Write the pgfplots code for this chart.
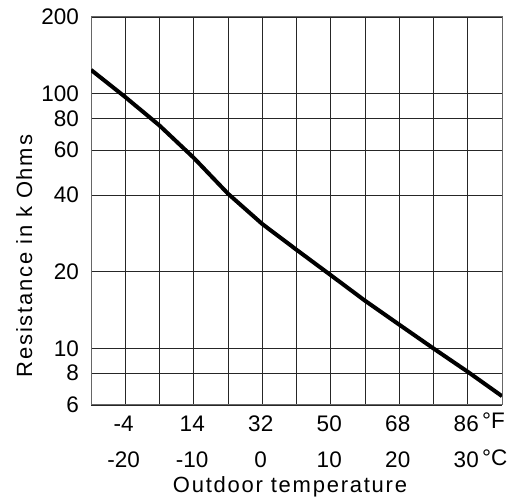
\documentclass[border=0pt]{standalone}
\usepackage{pgfplots}
\pgfplotsset{compat=1.18}
\usepackage{fontspec}
\setmainfont{Liberation Sans}
\newfontfamily\spaced[LetterSpace=8]{Liberation Sans}
\begin{document}
\begin{tikzpicture}[x=1bp,y=1bp]
\useasboundingbox (0,0) rectangle (518,498);
\begin{axis}[
 at={(91bp,93bp)}, anchor=south west,
 scale only axis, width=411bp, height=388bp,
 xmin=-25, xmax=35, ymode=log, ymin=6, ymax=200,
 xtick={-20,-10,...,30},
 minor xtick={-15,-5,...,25},
 xticklabels={{-4\\-20},{14\\-10},{32\\0},{50\\10},{68\\20},{86\hspace{9bp}\\30\hspace{9bp}}},
 ytick={6,8,10,20,40,60,80,100,200},
 yticklabels={6,8,10,20,40,60,80,100,200},
 grid=both,
 major grid style={black!85, line width=0.9bp},
 minor grid style={black!85, line width=0.9bp},
 axis line style={black!60, line width=1bp},
 major tick length=0pt, minor tick length=0pt,
 tick style={draw=none},
 xticklabel style={font=\fontsize{22.5bp}{36bp}\selectfont, align=center, anchor=north, inner sep=0pt, yshift=-11bp, xshift=-1.5bp},
 yticklabel style={font=\fontsize{22.5bp}{26bp}\selectfont, anchor=east, inner sep=0pt, xshift=-12bp},
]
\addplot[black, line width=4bp, line join=round] coordinates {
(-25,124) (-20,97) (-15,75) (-10,56) (-5,40.5) (0,30.8) (5,24.4) (10,19.4) (15,15.4) (20,12.4) (25,10.0) (30,8.1) (35,6.5)
};
\end{axis}
\node[anchor=base west, inner sep=0pt, font=\fontsize{22.5bp}{26bp}\selectfont] at (482,69) {°F};
\node[anchor=base west, inner sep=0pt, font=\fontsize{22.5bp}{26bp}\selectfont] at (482,32) {°C};
\node[rotate=90, anchor=base, inner sep=0pt, font=\spaced\fontsize{22bp}{26bp}\selectfont] at (32,242) {Resistance in k Ohms};
\node[anchor=base, inner sep=0pt, font=\spaced\fontsize{22bp}{26bp}\selectfont] at (290,5) {Outdoor temperature};
\end{tikzpicture}
\end{document}
